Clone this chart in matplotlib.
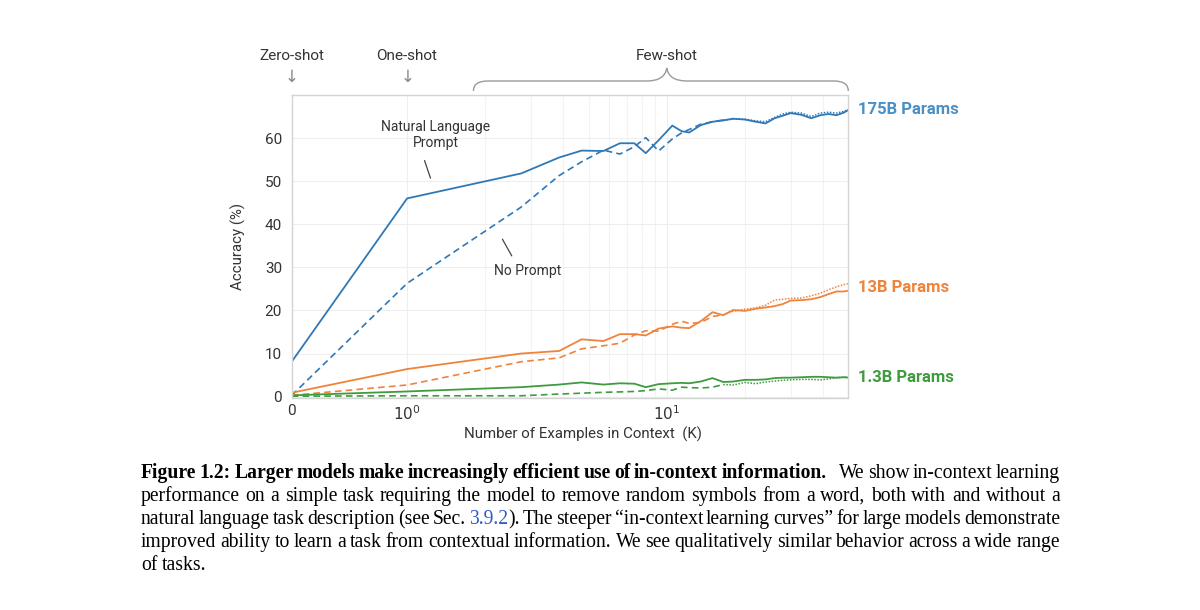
import matplotlib
matplotlib.use("Agg")
import matplotlib.pyplot as plt
import matplotlib.transforms as mtransforms
from matplotlib.path import Path
from matplotlib.patches import PathPatch

# number of examples in context (K)
K = [0, 1, 2.75, 3.85, 4.7, 5.7, 6.6, 7.5, 8.3, 9.3, 10.5, 11.4, 12.2, 13.5, 15,
     16.5, 18, 20, 22, 24, 26, 28, 30, 33, 36, 39, 42, 45, 48, 50]

# accuracy (%), solid = natural language prompt, dashed = no prompt
p175_prompt = [8.1, 46.0, 51.8, 55.5, 57.1, 57.0, 58.8, 58.8, 56.5, 59.5, 62.9, 61.6, 61.3, 63.0, 63.8,
               64.1, 64.5, 64.3, 63.8, 63.4, 64.6, 65.2, 65.8, 65.4, 64.6, 65.3, 65.6, 65.3, 65.9, 66.5]
p175_none = [0.3, 26.3, 44.0, 51.3, 54.5, 57.2, 56.3, 58.0, 60.1, 57.0, 59.8, 61.2, 62.0, 63.2, 63.8,
             64.2, 64.4, 64.4, 64.0, 63.8, 64.8, 65.6, 66.0, 65.8, 65.0, 65.8, 66.0, 65.8, 66.2, 66.6]
p13_prompt = [0.9, 6.4, 10.0, 10.6, 13.3, 12.9, 14.5, 14.5, 14.2, 15.8, 16.3, 16.0, 15.9, 17.5, 19.6,
              18.9, 20.1, 19.9, 20.4, 20.7, 21.0, 21.5, 22.3, 22.4, 22.6, 23.1, 23.8, 24.4, 24.4, 24.6]
p13_none = [0.3, 2.7, 8.1, 9.0, 11.1, 11.8, 12.4, 14.3, 15.3, 15.2, 16.8, 17.5, 17.0, 17.2, 18.6,
            19.0, 19.8, 20.3, 20.6, 21.2, 22.4, 22.6, 22.8, 22.9, 23.4, 24.0, 24.8, 25.5, 26.0, 26.2]
p1_prompt = [0.3, 1.2, 2.2, 2.8, 3.3, 2.8, 3.1, 3.0, 2.2, 2.9, 3.1, 3.2, 3.1, 3.5, 4.3,
             3.4, 3.5, 3.9, 3.9, 4.0, 4.3, 4.4, 4.4, 4.5, 4.6, 4.6, 4.5, 4.4, 4.5, 4.4]
p1_none = [0.1, 0.2, 0.2, 0.6, 0.8, 1.0, 1.1, 1.2, 1.4, 1.8, 1.5, 2.2, 2.1, 2.0, 2.2,
           2.8, 2.7, 3.3, 3.0, 3.4, 3.6, 3.8, 3.9, 4.0, 4.0, 3.9, 4.1, 4.4, 4.5, 4.6]

model_names = ["175B Params", "13B Params", "1.3B Params"]
y_ticks = [0, 10, 20, 30, 40, 50, 60]

caption = [
    [("Figure 1.2: Larger models make increasingly efficient use of in-context information.", "bold"),
     ("  We show in-context learning", "normal")],
    [("performance on a simple task requiring the model to remove random symbols from a word, both with and without a", "normal")],
    [("natural language task description (see Sec. ", "normal"), ("3.9.2", "link"),
     ("). The steeper \u201cin-context learning curves\u201d for large models demonstrate", "normal")],
    [("improved ability to learn a task from contextual information. We see qualitatively similar behavior across a wide range", "normal")],
    [("of tasks.", "normal")],
]

colors = ["#2f78b7", "#f0833a", "#3e9b3e"]
label_colors = ["#4a90c4", "#f0833a", "#3e9b3e"]
SANS = ["Roboto", "DejaVu Sans"]
plt.rcParams["font.family"] = SANS

W, H = 1200, 610
fig = plt.figure(figsize=(12, 6.1), dpi=100)
L, R, T, B = 291.7, 848.3, 95, 397.5
ax = fig.add_axes([L / W, 1 - B / H, (R - L) / W, (B - T) / H])

ax.set_xscale("symlog", linthresh=1, linscale=0.4)
ax.set_xlim(0, 50)
ax.set_ylim(-0.2, 70)

split = 15  # dashes turn dotted in the dense part of the curve
series = [(p175_prompt, p175_none), (p13_prompt, p13_none), (p1_prompt, p1_none)]
for (sol, das), c in zip(series, colors):
    ax.plot(K, sol, color=c, lw=1.3)
    ax.plot(K[:split + 1], das[:split + 1], color=c, lw=1.2, ls=(0, (4, 2.5)))
    ax.plot(K[split:], das[split:], color=c, lw=1.1, ls=(0, (1, 1)))

for (sol, das), name, c in zip(series, model_names, label_colors):
    yy = (sol[-1] + das[-1]) / 2
    ax.text(1.018, yy, name, transform=ax.get_yaxis_transform(), color=c,
            fontsize=12, fontweight="bold", va="center", ha="left")

ax.set_xticks([0, 1, 10])
ax.set_xticklabels(["0", "$10^0$", "$10^1$"])
ax.set_xticks([2, 3, 4, 5, 6, 7, 8, 9, 20, 30, 40], minor=True)
ax.set_yticks(y_ticks)
ax.tick_params(axis="both", which="both", length=0, labelsize=11, labelcolor="#333333")
ax.tick_params(axis="x", pad=5)
ax.tick_params(axis="y", pad=7)
ax.grid(True, which="major", color="#eeeeee", lw=0.8)
ax.grid(True, which="minor", axis="x", color="#f3f3f3", lw=0.8)
ax.set_axisbelow(True)
for s in ax.spines.values():
    s.set_color("#d4d4d4")
    s.set_linewidth(1.0)

ax.set_xlabel("Number of Examples in Context  (K)", fontsize=10.8, color="#333333")
ax.xaxis.set_label_coords(0.523, -0.095)
ax.xaxis.label.set_va("top")
ax.set_ylabel("Accuracy (%)", fontsize=10.8, color="#333333")
ax.yaxis.set_label_coords(-0.095, 0.5)
ax.yaxis.label.set_va("center")

# annotations inside the axes
ax.text(1.285, 60.7, "Natural Language\nPrompt", ha="center", va="center",
        fontsize=10, color="#333333", linespacing=1.25)
ax.annotate("", xy=(1.24, 50.1), xytext=(1.158, 55.4),
            arrowprops=dict(arrowstyle="-", color="#444444", lw=0.9))
ax.text(2.9, 29.1, "No Prompt", ha="center", va="center", fontsize=10, color="#333333")
ax.annotate("", xy=(2.56, 32.1), xytext=(2.3, 37.1),
            arrowprops=dict(arrowstyle="-", color="#444444", lw=0.9))

# zero / one / few shot markers above the axes
top = mtransforms.blended_transform_factory(ax.transData, ax.transAxes)
for xk, lab in [(0, "Zero-shot"), (1, "One-shot"), (10, "Few-shot")]:
    ax.text(xk, 1.13, lab, transform=top, ha="center", va="center", fontsize=11,
            color="#333333", clip_on=False)
for xk in [0, 1]:
    ax.text(xk, 1.06, "\u2193", transform=top, ha="center", va="center", fontsize=12,
            color="#888888", family=["DejaVu Sans"], clip_on=False)

# curly brace over the few-shot range, built in pixels from the data positions
fig.canvas.draw()
bx0 = top.transform((1.8, 0))[0]
bxm = top.transform((10, 0))[0]
bx1 = top.transform((50, 0))[0]
yb = H - 91
yf = H - 81
yp = H - 68
verts = [(bx0, yb), (bx0, yf), (bx0 + 14, yf),
         (bxm - 20, yf),
         (bxm - 2, yf), (bxm, yp),
         (bxm + 2, yf), (bxm + 20, yf),
         (bx1 - 14, yf),
         (bx1, yf), (bx1, yb)]
codes = [Path.MOVETO, Path.CURVE3, Path.CURVE3,
         Path.LINETO,
         Path.CURVE3, Path.CURVE3,
         Path.CURVE3, Path.CURVE3,
         Path.LINETO,
         Path.CURVE3, Path.CURVE3]
brace = PathPatch(Path(verts, codes), transform=mtransforms.IdentityTransform(),
                  fill=False, ec="#9a9a9a", lw=1.0, clip_on=False)
fig.add_artist(brace)

# justified caption
renderer = fig.canvas.get_renderer()
CAP_L, CAP_R = 141, 1060
base_y = 478
styles = {"bold": dict(fontweight="bold", color="black"),
          "normal": dict(fontweight="normal", color="black"),
          "link": dict(fontweight="normal", color="#2c5bc8")}


def line_words(chunks):
    words = []
    wide = set()  # word indices preceded by a double space
    prev_space = True
    for txt, sty in chunks:
        parts = txt.split(" ")
        if txt.startswith("  ") and words:
            wide.add(len(words))
        for j, p in enumerate(parts):
            if j == 0 and not prev_space and words:
                if p:
                    words[-1].append((p, sty))
            elif p:
                words.append([(p, sty)])
        prev_space = txt.endswith(" ")
    return words, wide


EXTRA = 9
for li, chunks in enumerate(caption):
    words, wide = line_words(chunks)
    y = 1 - (base_y + 23 * li) / H
    items = []
    total = 0
    for w in words:
        segs = []
        for txt, sty in w:
            t = fig.text(0, y, txt, fontsize=14.1, family=["Liberation Serif", "DejaVu Serif"],
                         va="baseline", ha="left", **styles[sty])
            wd = t.get_window_extent(renderer).width
            segs.append((t, wd))
        ww = sum(s[1] for s in segs)
        items.append((segs, ww))
        total += ww
    space = 4.5
    if li < len(caption) - 1 and len(items) > 1:
        space = max(2.0, (CAP_R - CAP_L - total - EXTRA * len(wide)) / (len(items) - 1))
    x = CAP_L
    for i, (segs, ww) in enumerate(items):
        if i in wide:
            x += EXTRA
        for t, wd in segs:
            t.set_x(x / W)
            x += wd
        x += space

fig.savefig("out.png", dpi=100)
